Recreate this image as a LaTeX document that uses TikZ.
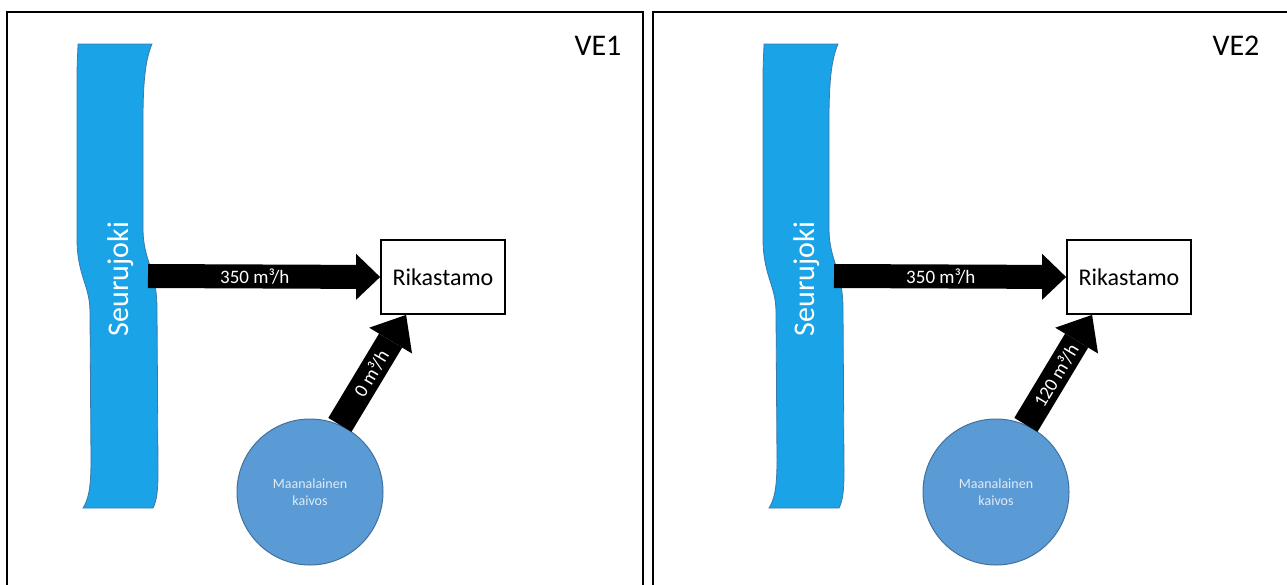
\documentclass[tikz,border=0pt]{standalone}
\usepackage{fontspec}
\setmainfont{Carlito}
\usetikzlibrary{arrows.meta,calc}
\definecolor{riverblue}{RGB}{26,163,230}
\definecolor{riveredge}{RGB}{60,120,170}
\definecolor{minefill}{RGB}{91,155,213}
\definecolor{mineedge}{RGB}{65,113,156}
\definecolor{minetext}{RGB}{225,235,245}
\begin{document}
\begin{tikzpicture}[x=1pt,y=-1pt,
  frame/.style={line width=2pt},
  plant/.style={draw, line width=1.8pt, minimum width=124pt, minimum height=74pt,
    inner sep=0pt, font=\fontsize{24}{28}\selectfont},
  mine/.style={circle, draw=mineedge, fill=minefill, line width=1pt,
    minimum size=146pt, inner sep=0pt, align=center, text=minetext,
    font=\fontsize{14}{17}\selectfont},
  flow/.style={line width=24pt, -{Triangle[width=46pt,length=24pt,line width=0pt]}},
  diagflow/.style={line width=27pt, -{Triangle[width=50pt,length=30pt,line width=0pt]}},
  flowlabel/.style={text=white, font=\fontsize{19}{21}\selectfont, inner sep=0pt},
  rivername/.style={rotate=90, anchor=base, text=white, font=\fontsize{30}{32}\selectfont},
  caselabel/.style={anchor=base, font=\fontsize{30}{32}\selectfont},
  river/.pic={
    \draw[fill=riverblue, draw=riveredge, line width=0.8pt]
      (78,44) -- (152,44)
      .. controls (146,58) and (143,78) .. (143,120)
      -- (143,228) .. controls (143,262) and (157,268) .. (157,310)
      -- (158,470) .. controls (158,490) and (157,500) .. (153,508)
      -- (83,508)
      .. controls (88,500) and (91,490) .. (91,460)
      -- (90,312) .. controls (90,285) and (77,276) .. (77,238)
      -- (77,80) .. controls (77,60) and (78,50) .. (78,44) -- cycle;
  }
]
\useasboundingbox (0,0) rectangle (1287,584);

% left panel: VE1
\draw[frame] (7,600) -- (7,12) -- (643,12) -- (643,600);
\pic at (0,0) {river};
\node[rivername] (riverA) at (128,279) {Seurujoki};
\node[caselabel] (caseA) at (598,55) {VE1};
\node[plant] (plantA) at (443,277) {Rikastamo};
\node[mine] (mineA) at (310,492) {Maanalainen\\kaivos};
\coordinate (intakeA) at (148,276);
\draw[flow] (intakeA) -- node[flowlabel, pos=0.46] {350 m³/h} (plantA.west);
\draw[diagflow] (mineA.66) -- node[flowlabel, sloped, pos=0.47] {0 m³/h}
  ($(plantA.south west)+(26,0)$);

% right panel: VE2
\draw[frame] (653,600) -- (653,12) -- (1300,12);
\begin{scope}[xshift=686pt]
\pic at (0,0) {river};
\node[rivername] (riverB) at (128,279) {Seurujoki};
\node[plant] (plantB) at (443,277) {Rikastamo};
\node[mine] (mineB) at (310,492) {Maanalainen\\kaivos};
\coordinate (intakeB) at (148,276);
\draw[flow] (intakeB) -- node[flowlabel, pos=0.46] {350 m³/h} (plantB.west);
\draw[diagflow] (mineB.66) -- node[flowlabel, sloped, pos=0.45] {120 m³/h}
  ($(plantB.south west)+(26,0)$);
\end{scope}
\node[caselabel] (caseB) at (1236,55) {VE2};
\end{tikzpicture}
\end{document}
